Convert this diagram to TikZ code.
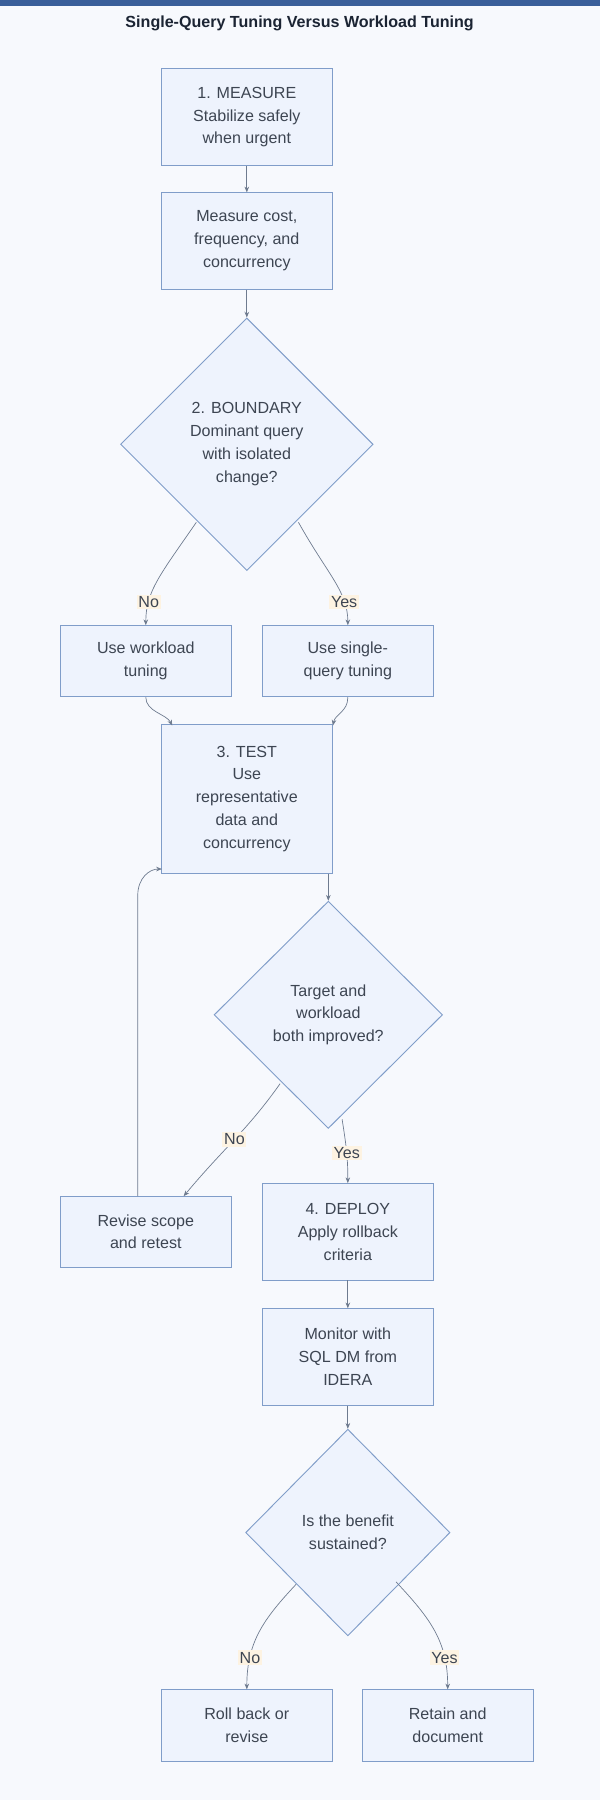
\documentclass[tikz,border=0pt]{standalone}
\usepackage{fontspec}
\setmainfont{Liberation Sans}
\usetikzlibrary{shapes.geometric,arrows.meta}
\definecolor{bg}{HTML}{F7F9FD}
\definecolor{nodefill}{HTML}{EEF3FD}
\definecolor{nodeline}{HTML}{809DC9}
\definecolor{edge}{HTML}{6E7B8F}
\definecolor{lbl}{HTML}{FDF3E2}
\definecolor{bar}{HTML}{3A5F9A}
\definecolor{ttl}{HTML}{1B2433}
\tikzset{
 box/.style={draw=nodeline,fill=nodefill,line width=0.8pt,minimum width=149pt,align=center,font=\fontsize{14}{20}\selectfont,text=ttl!85},
 dia/.style={draw=nodeline,fill=nodefill,line width=0.8pt,diamond,align=center,font=\fontsize{14}{20}\selectfont,text=ttl!85,inner sep=0pt},
 conn/.style={draw=edge,line width=0.6pt,-{Stealth[length=5pt,width=4pt]}},
 elab/.style={fill=lbl,font=\fontsize{14}{16}\selectfont,text=ttl!85,inner sep=1.5pt}
}
\begin{document}
\begin{tikzpicture}[x=1pt,y=-1pt]
\fill[bg] (0,0) rectangle (523,1568);
\useasboundingbox (0,0) rectangle (523,1568);
\fill[bar] (0,0) rectangle (523,5);
\node[font=\bfseries\fontsize{14}{16}\selectfont,text=ttl] (title) at (261,20) {Single-Query Tuning Versus Workload Tuning};

\node[box,minimum height=85pt] (m1) at (215,102) {1. MEASURE\\Stabilize safely\\when urgent};
\node[box,minimum height=84pt] (m2) at (215,210) {Measure cost,\\frequency, and\\concurrency};
\node[dia,minimum width=220pt,minimum height=220pt] (d1) at (215,387) {2. BOUNDARY\\Dominant query\\with isolated\\change?};
\node[box,minimum height=62pt] (wl) at (127,576) {Use workload\\tuning};
\node[box,minimum height=62pt] (sq) at (303,576) {Use single-\\query tuning};
\node[box,minimum height=129pt] (t) at (215,696) {3. TEST\\Use\\representative\\data and\\concurrency};
\node[dia,minimum width=199pt,minimum height=198pt] (d2) at (286,884) {Target and\\workload\\both improved?};
\node[box,minimum height=62pt] (rv) at (127,1073) {Revise scope\\and retest};
\node[box,minimum height=84pt] (dp) at (303,1073) {4. DEPLOY\\Apply rollback\\criteria};
\node[box,minimum height=84pt] (mo) at (303,1182) {Monitor with\\SQL DM from\\IDERA};
\node[dia,minimum width=178pt,minimum height=180pt] (d3) at (303,1335) {Is the benefit\\sustained?};
\node[box,minimum height=62pt] (rb) at (215,1503) {Roll back or\\revise};
\node[box,minimum height=62pt] (rt) at (390,1503) {Retain and\\document};

\coordinate (d1l) at (171,455); \coordinate (d1r) at (260,455);
\coordinate (d2l) at (244,944); \coordinate (d2r) at (298,975);
\coordinate (d3l) at (258,1380); \coordinate (d3r) at (345,1378);

\draw[conn] (m1) -- (m2);
\draw[conn] (m2) -- (d1);
\draw[conn] (d1l) .. controls (140,500) and (127,515) .. node[elab,pos=0.75]{No} (wl.north);
\draw[conn] (d1r) .. controls (285,500) and (303,515) .. node[elab,pos=0.75]{Yes} (sq.north);
\draw[conn] (wl.south) .. controls (127,620) and (145,622) .. (150,632);
\draw[conn] (sq.south) .. controls (303,620) and (292,622) .. (290,632);
\draw[conn] (286,761) -- (d2.north);
\draw[conn] (d2l) .. controls (215,985) and (195,1000) .. node[elab,pos=0.5]{No} (160,1042);
\draw[conn] (d2r) .. controls (302,1000) and (303,1010) .. node[elab,pos=0.5]{Yes} (dp.north);
\draw[conn] (120,1042) -- (120,780) .. controls (120,765) and (130,757) .. (141,757);
\draw[conn] (dp) -- (mo);
\draw[conn] (mo) -- (d3);
\draw[conn] (d3l) .. controls (230,1410) and (215,1430) .. node[elab,pos=0.75]{No} (rb.north);
\draw[conn] (d3r) .. controls (375,1410) and (390,1430) .. node[elab,pos=0.75]{Yes} (rt.north);
\end{tikzpicture}
\end{document}
